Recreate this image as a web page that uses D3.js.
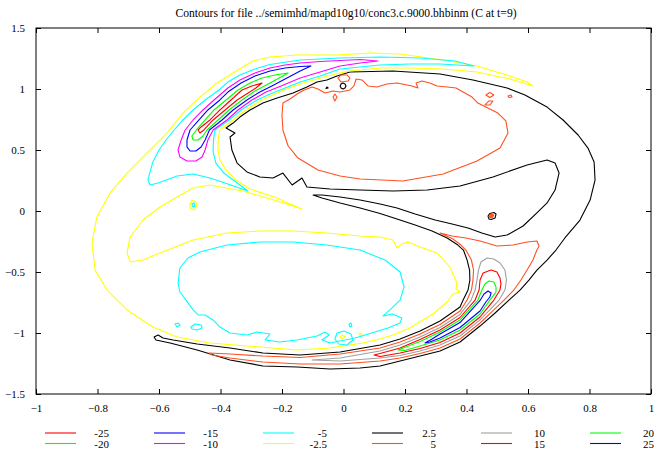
<!DOCTYPE html>
<html><head><meta charset="utf-8">
<script src="https://cdn.jsdelivr.net/npm/d3@7"></script>
<style>
body{margin:0;background:#fff}
svg{display:block}
text{font-family:"Liberation Serif","Times New Roman",serif;font-size:11px;fill:#000}
</style>
</head><body><svg id="c" width="660" height="454"></svg>
<script>
const titleText = "Contours for file ../semimhd/mapd10g10/conc3.c.9000.bhbinm (C at t=9)";
const levels = [-25,-20,-15,-10,-5,-2.5,2.5,5,10,15,20,25];
const levelLabels = ["-25","-20","-15","-10","-5","-2.5","2.5","5","10","15","20","25"];
const levelColors = ["#ff0000","#00ff00","#0000ff","#ff00ff","#00ffff","#ffff00","#000000","#ff5020","#a0a0a0","#ff0000","#00ff00","#0000ff"];
const xTicks = [-1,-0.8,-0.6,-0.4,-0.2,0,0.2,0.4,0.6,0.8,1];
const yTicks = [-1.5,-1,-0.5,0,0.5,1,1.5];

// ---- contour level 2.5 (black) ----
const black_main = [[-0.616,-1.033],[-0.610,-1.057],[-0.564,-1.082],[-0.476,-1.139],[-0.369,-1.221],[-0.262,-1.270],[-0.151,-1.279],[-0.044,-1.295],[0.054,-1.287],[0.119,-1.270],[0.184,-1.230],[0.249,-1.189],[0.314,-1.148],[0.379,-1.074],[0.444,-0.943],[0.493,-0.836],[0.538,-0.730],[0.574,-0.648],[0.603,-0.566],[0.629,-0.484],[0.662,-0.402],[0.691,-0.320],[0.720,-0.221],[0.769,-0.074],[0.802,0.090],[0.818,0.254],[0.815,0.402],[0.795,0.516],[0.763,0.623],[0.714,0.746],[0.662,0.852],[0.590,0.951],[0.532,1.008],[0.421,1.074],[0.314,1.123],[0.161,1.148],[0.021,1.139],[-0.021,1.107],[-0.054,1.074],[-0.086,1.057],[-0.119,1.016],[-0.164,0.967],[-0.216,0.926],[-0.262,0.885],[-0.304,0.828],[-0.337,0.770],[-0.359,0.721],[-0.382,0.680],[-0.353,0.639],[-0.369,0.607],[-0.363,0.500],[-0.346,0.393],[-0.314,0.320],[-0.272,0.279],[-0.229,0.270],[-0.197,0.311],[-0.167,0.213],[-0.135,0.270],[-0.119,0.197],[-0.044,0.180],[0.054,0.172],[0.161,0.164],[0.272,0.172],[0.379,0.205],[0.486,0.279],[0.597,0.377],[0.662,0.418],[0.688,0.393],[0.701,0.311],[0.688,0.172],[0.662,0.066],[0.629,-0.016],[0.584,-0.123],[0.532,-0.197],[0.493,-0.213],[0.450,-0.180],[0.405,-0.139],[0.353,-0.107],[0.298,-0.074],[0.233,-0.025],[0.174,0.025],[0.119,0.057],[0.054,0.090],[-0.011,0.115],[-0.070,0.131],[-0.099,0.131],[-0.070,0.107],[-0.011,0.066],[0.054,0.025],[0.119,-0.020],[0.174,-0.066],[0.233,-0.115],[0.288,-0.164],[0.337,-0.221],[0.372,-0.279],[0.390,-0.320],[0.402,-0.402],[0.410,-0.484],[0.411,-0.566],[0.405,-0.648],[0.389,-0.730],[0.379,-0.787],[0.314,-0.902],[0.249,-0.984],[0.184,-1.049],[0.119,-1.098],[-0.011,-1.156],[-0.141,-1.180],[-0.262,-1.164],[-0.369,-1.123],[-0.476,-1.090],[-0.554,-1.057],[-0.587,-1.041],[-0.603,-1.016]];
const black_ring = [[0.008,1.025],[0.005,1.041],[-0.002,1.049],[-0.008,1.041],[-0.011,1.025],[-0.008,1.008],[-0.002,1.000],[0.005,1.008]];
const black_dot = [[-0.054,1.016],[-0.050,1.008],[-0.057,1.004]];
const black_islet = [[0.496,-0.025],[0.489,-0.012],[0.476,-0.020],[0.470,-0.041],[0.473,-0.066],[0.480,-0.070],[0.493,-0.057]];

// ---- contour level 5 (orange) ----
const orange_oval = [[-0.197,0.885],[-0.200,0.787],[-0.197,0.664],[-0.180,0.533],[-0.148,0.434],[-0.083,0.336],[-0.011,0.287],[0.054,0.262],[0.193,0.246],[0.324,0.303],[0.434,0.410],[0.509,0.516],[0.535,0.639],[0.528,0.738],[0.502,0.803],[0.463,0.852],[0.437,0.885],[0.418,0.934],[0.389,0.975],[0.366,1.008],[0.337,1.016],[0.304,1.025],[0.281,1.049],[0.255,1.066],[0.236,1.049],[0.242,1.008],[0.223,1.025],[0.174,1.049],[0.141,1.041],[0.109,1.016],[0.080,1.025],[0.060,1.074],[0.041,1.082],[0.034,1.025],[0.021,0.992],[-0.011,0.975],[-0.034,0.984],[-0.060,0.967],[-0.083,1.000],[-0.102,1.016],[-0.128,0.992],[-0.151,0.959],[-0.174,0.918]];
const orange_band = [[-0.437,-1.164],[-0.369,-1.172],[-0.262,-1.189],[-0.141,-1.201],[-0.011,-1.172],[0.119,-1.123],[0.184,-1.074],[0.249,-1.008],[0.314,-0.930],[0.379,-0.820],[0.402,-0.730],[0.416,-0.648],[0.421,-0.566],[0.423,-0.484],[0.416,-0.402],[0.398,-0.320],[0.382,-0.279],[0.356,-0.230],[0.314,-0.180],[0.353,-0.205],[0.398,-0.221],[0.444,-0.246],[0.499,-0.287],[0.551,-0.279],[0.597,-0.254],[0.629,-0.246],[0.636,-0.287],[0.629,-0.320],[0.616,-0.402],[0.597,-0.484],[0.577,-0.566],[0.554,-0.648],[0.522,-0.730],[0.483,-0.824],[0.444,-0.918],[0.379,-1.049],[0.314,-1.123],[0.249,-1.168],[0.184,-1.205],[0.119,-1.230],[-0.011,-1.254],[-0.141,-1.254],[-0.262,-1.238],[-0.369,-1.205],[-0.428,-1.180]];
const orange_a = [[-0.018,1.090],[-0.008,1.115],[0.011,1.115],[0.021,1.090],[0.015,1.066],[-0.008,1.057]];
const orange_b = [[-0.028,0.959],[-0.021,0.934],[-0.028,0.902],[-0.034,0.934]];
const orange_c = [[0.463,0.951],[0.476,0.971],[0.489,0.951],[0.476,0.930]];
const orange_d = [[0.460,0.869],[0.473,0.902],[0.486,0.902],[0.476,0.869]];
const orange_e = [[0.535,0.943],[0.545,0.951],[0.548,0.934],[0.538,0.930]];
const orange_islet = [[0.489,-0.033],[0.480,-0.025],[0.473,-0.049],[0.483,-0.057]];

// ---- contour level 10 (gray) ----
const gray_band = [[-0.102,-1.221],[-0.011,-1.205],[0.119,-1.148],[0.184,-1.098],[0.249,-1.033],[0.314,-0.955],[0.379,-0.848],[0.415,-0.730],[0.428,-0.648],[0.434,-0.566],[0.439,-0.484],[0.447,-0.418],[0.467,-0.385],[0.489,-0.393],[0.509,-0.426],[0.525,-0.484],[0.530,-0.566],[0.525,-0.648],[0.506,-0.730],[0.476,-0.811],[0.444,-0.893],[0.379,-1.025],[0.314,-1.098],[0.249,-1.148],[0.184,-1.184],[0.119,-1.205],[-0.011,-1.230]];

// ---- contour level 15 (red) ----
const red_band = [[0.099,-1.180],[0.119,-1.168],[0.184,-1.123],[0.249,-1.053],[0.314,-0.975],[0.379,-0.873],[0.428,-0.730],[0.441,-0.648],[0.444,-0.566],[0.454,-0.508],[0.480,-0.484],[0.499,-0.500],[0.509,-0.549],[0.512,-0.598],[0.509,-0.648],[0.489,-0.730],[0.463,-0.811],[0.444,-0.869],[0.379,-1.000],[0.314,-1.078],[0.249,-1.127],[0.184,-1.164],[0.119,-1.193]];

// ---- contour level 20 (green) ----
const green_band = [[0.177,-1.139],[0.249,-1.070],[0.314,-0.992],[0.379,-0.893],[0.437,-0.730],[0.450,-0.648],[0.460,-0.598],[0.473,-0.574],[0.489,-0.582],[0.496,-0.623],[0.496,-0.664],[0.476,-0.730],[0.444,-0.844],[0.379,-0.975],[0.314,-1.057],[0.249,-1.107],[0.200,-1.143]];

// ---- contour level 25 (blue) ----
const blue_band = [[0.265,-1.082],[0.288,-1.049],[0.314,-1.008],[0.379,-0.914],[0.445,-0.730],[0.457,-0.680],[0.470,-0.656],[0.480,-0.672],[0.476,-0.705],[0.463,-0.746],[0.444,-0.820],[0.379,-0.955],[0.314,-1.041],[0.281,-1.074]];

// ---- contour level -2.5 (yellow) ----
const yellow_main = [[0.616,1.025],[0.597,1.057],[0.541,1.107],[0.434,1.189],[0.324,1.238],[0.184,1.287],[0.086,1.295],[-0.021,1.279],[-0.151,1.279],[-0.239,1.262],[-0.294,1.230],[-0.359,1.131],[-0.411,1.049],[-0.467,0.934],[-0.522,0.803],[-0.574,0.639],[-0.629,0.500],[-0.704,0.311],[-0.759,0.148],[-0.802,-0.049],[-0.818,-0.262],[-0.808,-0.484],[-0.769,-0.648],[-0.704,-0.811],[-0.620,-0.951],[-0.541,-1.033],[-0.434,-1.082],[-0.272,-1.115],[-0.151,-1.139],[-0.044,-1.123],[0.063,-1.082],[0.119,-1.049],[0.161,-1.016],[0.216,-0.959],[0.291,-0.844],[0.337,-0.746],[0.356,-0.680],[0.379,-0.664],[0.366,-0.639],[0.369,-0.590],[0.346,-0.459],[0.304,-0.344],[0.249,-0.295],[0.210,-0.254],[0.190,-0.270],[0.174,-0.303],[0.161,-0.238],[0.119,-0.213],[0.054,-0.205],[-0.054,-0.180],[-0.164,-0.164],[-0.272,-0.164],[-0.379,-0.180],[-0.489,-0.238],[-0.597,-0.344],[-0.652,-0.402],[-0.694,-0.418],[-0.704,-0.344],[-0.694,-0.213],[-0.652,-0.074],[-0.597,0.033],[-0.541,0.115],[-0.489,0.189],[-0.434,0.213],[-0.327,0.164],[-0.216,0.082],[-0.164,0.041],[-0.135,0.016],[-0.174,0.057],[-0.216,0.107],[-0.304,0.180],[-0.350,0.254],[-0.382,0.336],[-0.402,0.418],[-0.408,0.500],[-0.408,0.582],[-0.402,0.664],[-0.359,0.746],[-0.317,0.828],[-0.265,0.910],[-0.223,0.959],[-0.190,0.996],[-0.141,1.041],[-0.076,1.090],[-0.011,1.131],[0.021,1.148],[0.119,1.172],[0.216,1.172],[0.324,1.164],[0.434,1.139],[0.541,1.082],[0.607,1.033]];
const yellow_spot = [[-0.499,0.057],[-0.493,0.090],[-0.480,0.074],[-0.476,0.041],[-0.486,0.008],[-0.499,0.025]];
const yellow_ring = [[-0.011,-1.033],[-0.005,-1.016],[0.005,-1.033],[-0.005,-1.049]];
const yellow_dot = [[0.050,-1.008],[0.057,-1.000],[0.060,-1.016],[0.054,-1.020]];

// ---- contour level -5 (cyan) ----
const cyan_arm = [[0.424,1.189],[0.363,1.230],[0.249,1.254],[0.119,1.262],[-0.011,1.254],[-0.141,1.238],[-0.239,1.201],[-0.288,1.164],[-0.337,1.115],[-0.376,1.057],[-0.405,0.992],[-0.450,0.910],[-0.489,0.828],[-0.522,0.746],[-0.551,0.664],[-0.577,0.582],[-0.600,0.500],[-0.620,0.402],[-0.629,0.320],[-0.636,0.254],[-0.629,0.213],[-0.603,0.230],[-0.541,0.287],[-0.489,0.303],[-0.434,0.270],[-0.376,0.221],[-0.311,0.164],[-0.350,0.238],[-0.389,0.311],[-0.415,0.393],[-0.424,0.484],[-0.423,0.582],[-0.418,0.664],[-0.372,0.746],[-0.333,0.828],[-0.281,0.910],[-0.239,0.959],[-0.190,1.008],[-0.141,1.057],[-0.076,1.107],[-0.011,1.164],[0.054,1.180],[0.119,1.197],[0.216,1.205],[0.314,1.205]];
const cyan_lower = [[-0.538,-0.590],[-0.532,-0.467],[-0.506,-0.385],[-0.467,-0.336],[-0.379,-0.279],[-0.272,-0.254],[-0.164,-0.254],[-0.054,-0.279],[0.054,-0.320],[0.135,-0.402],[0.184,-0.500],[0.197,-0.623],[0.184,-0.730],[0.151,-0.811],[0.128,-0.861],[0.158,-0.844],[0.190,-0.877],[0.184,-0.918],[0.145,-0.959],[0.102,-0.992],[0.060,-1.025],[0.031,-1.045],[0.005,-1.057],[-0.044,-1.082],[-0.070,-1.057],[-0.047,-1.016],[-0.060,-0.992],[-0.086,-1.025],[-0.151,-1.057],[-0.207,-1.074],[-0.255,-1.057],[-0.239,-1.008],[-0.281,-0.992],[-0.314,-1.016],[-0.369,-1.000],[-0.402,-0.951],[-0.424,-0.893],[-0.450,-0.852],[-0.473,-0.852],[-0.489,-0.811],[-0.512,-0.730],[-0.532,-0.664]];
const cyan_spot = [[-0.493,0.057],[-0.486,0.066],[-0.483,0.041],[-0.489,0.033]];
const cyan_s1 = [[-0.548,-0.926],[-0.538,-0.918],[-0.532,-0.934],[-0.541,-0.951]];
const cyan_s2 = [[-0.496,-0.951],[-0.483,-0.926],[-0.463,-0.934],[-0.460,-0.959],[-0.476,-0.975],[-0.493,-0.967]];
const cyan_s3 = [[-0.021,-1.000],[0.002,-0.984],[0.024,-1.008],[0.031,-1.057],[0.011,-1.098],[-0.015,-1.090],[-0.028,-1.049]];
const cyan_s4 = [[0.018,-0.926],[0.024,-0.918],[0.027,-0.943],[0.021,-0.951]];

// ---- contour level -10 (magenta) ----
const magenta_arm = [[0.112,1.230],[0.054,1.242],[-0.011,1.234],[-0.076,1.225],[-0.141,1.213],[-0.190,1.197],[-0.239,1.172],[-0.288,1.131],[-0.337,1.074],[-0.376,1.008],[-0.421,0.910],[-0.457,0.828],[-0.489,0.746],[-0.515,0.664],[-0.528,0.582],[-0.538,0.500],[-0.532,0.443],[-0.509,0.410],[-0.480,0.410],[-0.460,0.443],[-0.450,0.500],[-0.441,0.582],[-0.424,0.664],[-0.379,0.746],[-0.343,0.828],[-0.298,0.910],[-0.252,0.975],[-0.203,1.025],[-0.141,1.090],[-0.076,1.139],[-0.011,1.189],[0.054,1.213]];

// ---- contour level -15 (blue) ----
const blue_arm = [[-0.106,1.188],[-0.141,1.184],[-0.190,1.172],[-0.239,1.148],[-0.288,1.107],[-0.333,1.049],[-0.376,0.975],[-0.402,0.910],[-0.441,0.828],[-0.470,0.746],[-0.499,0.664],[-0.509,0.582],[-0.509,0.525],[-0.499,0.492],[-0.480,0.492],[-0.463,0.525],[-0.450,0.582],[-0.436,0.664],[-0.395,0.746],[-0.359,0.828],[-0.314,0.910],[-0.272,0.975],[-0.233,1.025],[-0.190,1.082],[-0.141,1.148]];

// ---- contour level -20 (green) ----
const green_arm = [[-0.180,1.131],[-0.223,1.115],[-0.265,1.090],[-0.304,1.049],[-0.343,0.992],[-0.382,0.910],[-0.421,0.828],[-0.450,0.746],[-0.476,0.672],[-0.493,0.615],[-0.489,0.582],[-0.473,0.582],[-0.457,0.615],[-0.444,0.664],[-0.408,0.746],[-0.372,0.828],[-0.330,0.910],[-0.288,0.984],[-0.245,1.041],[-0.203,1.098]];

// ---- contour level -25 (red) ----
const red_arm = [[-0.265,1.049],[-0.298,1.025],[-0.330,0.992],[-0.366,0.910],[-0.402,0.828],[-0.434,0.746],[-0.463,0.689],[-0.473,0.664],[-0.467,0.639],[-0.454,0.664],[-0.424,0.746],[-0.385,0.828],[-0.346,0.910],[-0.310,0.967],[-0.285,1.008]];

const contourSet = [
  {level: 2.5, pts: black_main}, {level: 2.5, pts: black_ring}, {level: 2.5, pts: black_dot}, {level: 2.5, pts: black_islet},
  {level: 5, pts: orange_oval}, {level: 5, pts: orange_band}, {level: 5, pts: orange_a}, {level: 5, pts: orange_b},
  {level: 5, pts: orange_c}, {level: 5, pts: orange_d}, {level: 5, pts: orange_e}, {level: 5, pts: orange_islet, fill: true},
  {level: 10, pts: gray_band}, {level: 15, pts: red_band}, {level: 20, pts: green_band}, {level: 25, pts: blue_band},
  {level: -2.5, pts: yellow_main}, {level: -2.5, pts: yellow_spot}, {level: -2.5, pts: yellow_ring}, {level: -2.5, pts: yellow_dot},
  {level: -5, pts: cyan_arm}, {level: -5, pts: cyan_lower}, {level: -5, pts: cyan_spot}, {level: -5, pts: cyan_s1},
  {level: -5, pts: cyan_s2}, {level: -5, pts: cyan_s3}, {level: -5, pts: cyan_s4},
  {level: -10, pts: magenta_arm}, {level: -15, pts: blue_arm}, {level: -20, pts: green_arm}, {level: -25, pts: red_arm}
];

const svg = d3.select("#c");
const W = 660, H = 454;
const x = d3.scaleLinear().domain([-1, 1]).range([36, 651]);
const y = d3.scaleLinear().domain([-1.5, 1.5]).range([394, 28]);
const color = d3.scaleOrdinal().domain(levels).range(levelColors);

svg.append("rect").attr("width", W).attr("height", H).attr("fill", "#fff");

svg.append("text").attr("x", 346).attr("y", 17).attr("text-anchor", "middle").style("font-size", "11.6px").text(titleText);

// contours
const line = d3.line().x(d => x(d[0])).y(d => y(d[1])).curve(d3.curveLinearClosed);
const g = svg.append("g");
contourSet.forEach(c => {
  g.append("path").attr("d", line(c.pts))
    .attr("fill", c.fill ? color(c.level) : "none")
    .attr("stroke", color(c.level)).attr("stroke-width", 1.1)
    .attr("stroke-linejoin", "round");
});

// axes (gnuplot-like, ticks inward on all sides)
const tl = 5;
const axB = svg.append("g").attr("transform", `translate(0,${y(-1.5)})`)
  .call(d3.axisBottom(x).tickValues(xTicks).tickSize(-tl).tickPadding(tl + 5).tickFormat(d3.format("")));
const axT = svg.append("g").attr("transform", `translate(0,${y(1.5)})`)
  .call(d3.axisTop(x).tickValues(xTicks).tickSize(-tl).tickFormat(""));
const axL = svg.append("g").attr("transform", `translate(${x(-1)},0)`)
  .call(d3.axisLeft(y).tickValues(yTicks).tickSize(-tl).tickPadding(tl + 6).tickFormat(d3.format("")));
const axR = svg.append("g").attr("transform", `translate(${x(1)},0)`)
  .call(d3.axisRight(y).tickValues(yTicks).tickSize(-tl).tickFormat(""));
[axB, axT, axL, axR].forEach(a => {
  a.selectAll(".domain").remove();
  a.selectAll("line").attr("stroke", "#000");
  a.selectAll("text").style("font-family", '"Liberation Serif",serif').style("font-size", "11px").attr("fill", "#000");
});
svg.append("rect").attr("x", x(-1)).attr("y", y(1.5)).attr("width", x(1) - x(-1)).attr("height", y(-1.5) - y(1.5))
  .attr("fill", "none").attr("stroke", "#000").attr("stroke-width", 1);

// legend
const lg = svg.append("g");
levels.forEach((lv, i) => {
  const col = Math.floor(i / 2), row = i % 2;
  const lx = 45 + col * 109, ly = 433 + row * 10.5;
  lg.append("line").attr("x1", lx).attr("x2", lx + 31).attr("y1", ly).attr("y2", ly)
    .attr("stroke", color(lv)).attr("stroke-width", 1.1);
  lg.append("text").attr("x", lx + 64).attr("y", ly + 4).attr("text-anchor", "end").text(levelLabels[i]);
});
</script>
</body></html>
